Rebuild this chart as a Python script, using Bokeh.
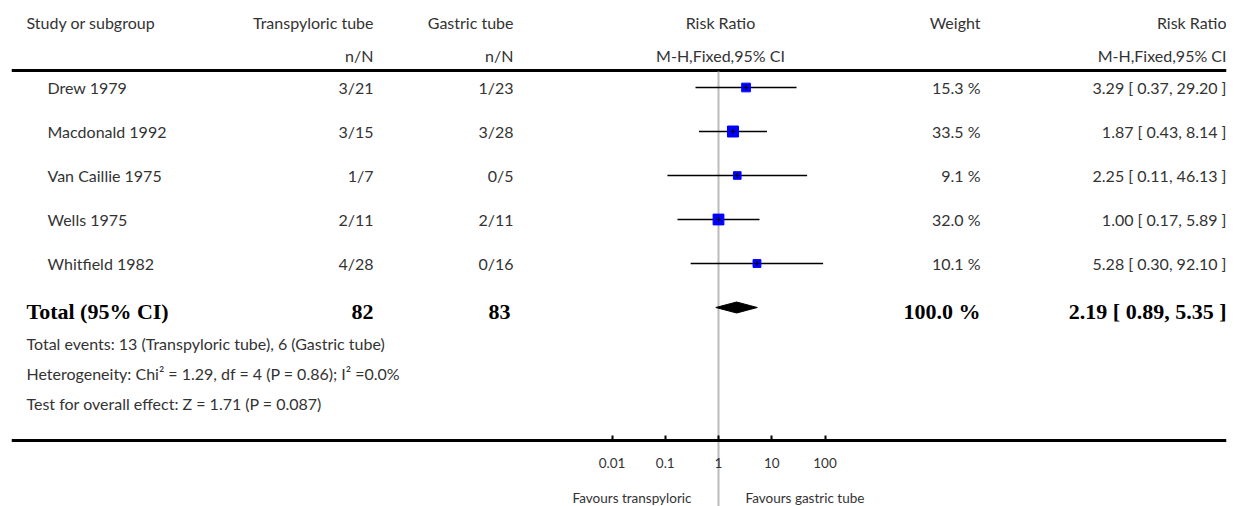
import math
from bokeh.plotting import figure
from bokeh.models import Range1d, LogScale, LogAxis, FixedTicker, ColumnDataSource
from bokeh.core.properties import value
from bokeh.embed import file_html
from bokeh.resources import INLINE

# ---------------- data ----------------
studies = ["Drew 1979", "Macdonald 1992", "Van Caillie 1975", "Wells 1975", "Whitfield 1982"]
trans_events = [3, 3, 1, 2, 4]
trans_total = [21, 15, 7, 11, 28]
gastric_events = [1, 3, 0, 2, 0]
gastric_total = [23, 28, 5, 11, 16]
weights = [15.3, 33.5, 9.1, 32.0, 10.1]
rr = [3.29, 1.87, 2.25, 1.00, 5.28]
rr_low = [0.37, 0.43, 0.11, 0.17, 0.30]
rr_high = [29.20, 8.14, 46.13, 5.89, 92.10]

total_label = "Total (95% CI)"
total_trans_N = 82
total_gastric_N = 83
total_weight = 100.0
total_rr = 2.19
total_low = 0.89
total_high = 5.35

footer_lines = [
    "Total events: 13 (Transpyloric tube), 6 (Gastric tube)",
    "Heterogeneity: Chi\u00b2 = 1.29, df = 4 (P = 0.86); I\u00b2 =0.0%",
    "Test for overall effect: Z = 1.71 (P = 0.087)",
]
tick_values = [0.01, 0.1, 1, 10, 100]
tick_labels = ["0.01", "0.1", "1", "10", "100"]
favours_left = "Favours transpyloric"
favours_right = "Favours gastric tube"

# ---------------- layout constants (page pixel coordinates) ----------------
W, H = 1234, 506
X_LEFT, X_RIGHT = 11, 1226
NULL_X = 718          # page x of RR = 1
PX_PER_DECADE = 53.25
HEAD1_Y, HEAD2_Y = 22, 55
RULE_Y = 70
ROW0_Y, ROW_STEP = 87, 44
TOTAL_Y = 311
DIAMOND_Y = 307
FOOT0_Y, FOOT_STEP = 343, 30
AXIS_Y = 440
FAV_Y = 497

COL_STUDY_HEAD = 26
COL_STUDY = 47
COL_TRANS = 373
COL_GASTRIC = 513
COL_WEIGHT = 980
COL_RR = 1226

FONT = value("Lato")
SERIF = value("Liberation Serif")
TXT = "#333333"
FS = "16px"
SMALL = "13.5px"
BS = "22px"

p = figure(width=W, height=H, output_backend="svg", toolbar_location=None,
           x_axis_type=None, y_axis_type=None,
           x_range=Range1d(X_LEFT, X_RIGHT), y_range=Range1d(H, 0),
           min_border_left=X_LEFT, min_border_right=W - X_RIGHT,
           min_border_top=0, min_border_bottom=0,
           outline_line_color=None)
p.background_fill_color = "white"
p.border_fill_color = "white"

lo_dec = (X_LEFT - NULL_X) / PX_PER_DECADE
hi_dec = (X_RIGHT - NULL_X) / PX_PER_DECADE
p.extra_x_ranges = {"rr": Range1d(10 ** lo_dec, 10 ** hi_dec)}
p.extra_x_scales = {"rr": LogScale()}

# ---------------- rules ----------------
p.segment(x0=[X_LEFT], x1=[X_RIGHT], y0=[RULE_Y], y1=[RULE_Y], line_color="black", line_width=3)
p.segment(x0=[1], x1=[1], y0=[RULE_Y + 1], y1=[H], x_range_name="rr",
          line_color="#bbbbbb", line_width=2)

# ---------------- headers ----------------
def txt(x, y, t, align, font=FONT, size=FS, style="normal", color=TXT, **kw):
    p.text(x=[x], y=[y], text=[t], text_align=align, text_baseline="middle",
           text_font=font, text_font_size=size, text_font_style=style,
           text_color=color, **kw)

txt(COL_STUDY_HEAD, HEAD1_Y, "Study or subgroup", "left")
txt(COL_TRANS, HEAD1_Y, "Transpyloric tube", "right")
txt(COL_TRANS, HEAD2_Y, "n/N", "right")
txt(COL_GASTRIC, HEAD1_Y, "Gastric tube", "right")
txt(COL_GASTRIC, HEAD2_Y, "n/N", "right")
txt(1, HEAD1_Y, "Risk Ratio", "center", x_range_name="rr", x_offset=2)
txt(1, HEAD2_Y, "M-H,Fixed,95% CI", "center", x_range_name="rr", x_offset=2)
txt(COL_WEIGHT, HEAD1_Y, "Weight", "right")
txt(COL_RR, HEAD1_Y, "Risk Ratio", "right")
txt(COL_RR, HEAD2_Y, "M-H,Fixed,95% CI", "right")

# ---------------- study rows ----------------
n = len(studies)
ys = [ROW0_Y + ROW_STEP * i for i in range(n)]
src = ColumnDataSource(dict(
    y=ys,
    study=studies,
    trans=[f"{a}/{b}" for a, b in zip(trans_events, trans_total)],
    gastric=[f"{a}/{b}" for a, b in zip(gastric_events, gastric_total)],
    weight=[f"{w:.1f} %" for w in weights],
    rrtxt=[f"{r:.2f} [ {l:.2f}, {h:.2f} ]" for r, l, h in zip(rr, rr_low, rr_high)],
    rr=rr, lo=rr_low, hi=rr_high,
    size=[4 + 1.2 * math.sqrt(w) for w in weights],
    xs=[COL_STUDY] * n, xt=[COL_TRANS] * n, xg=[COL_GASTRIC] * n,
    xw=[COL_WEIGHT] * n, xr=[COL_RR] * n,
))
common = dict(source=src, text_baseline="middle", text_font=FONT, text_font_size=FS, text_color=TXT)
p.text(x="xs", y="y", text="study", text_align="left", **common)
p.text(x="xt", y="y", text="trans", text_align="right", **common)
p.text(x="xg", y="y", text="gastric", text_align="right", **common)
p.text(x="xw", y="y", text="weight", text_align="right", **common)
p.text(x="xr", y="y", text="rrtxt", text_align="right", **common)

p.segment(x0="lo", x1="hi", y0="y", y1="y", source=src, x_range_name="rr",
          line_color="black", line_width=1.5)
p.scatter(x="rr", y="y", size="size", marker="square", source=src, x_range_name="rr",
          fill_color="#0000ff", line_color="#0000ff")
p.scatter(x="rr", y="y", size=5, marker="cross", source=src, x_range_name="rr",
          line_color="black", line_width=1)

# ---------------- total row ----------------
txt(COL_STUDY_HEAD, TOTAL_Y, total_label, "left", font=SERIF, size=BS, style="bold", color="black")
txt(COL_TRANS, TOTAL_Y, str(total_trans_N), "right", font=SERIF, size=BS, style="bold", color="black")
txt(COL_GASTRIC - 3, TOTAL_Y, str(total_gastric_N), "right", font=SERIF, size=BS, style="bold", color="black")
txt(COL_WEIGHT, TOTAL_Y, f"{total_weight:.1f} %", "right", font=SERIF, size=BS, style="bold", color="black")
txt(COL_RR, TOTAL_Y, f"{total_rr:.2f} [ {total_low:.2f}, {total_high:.2f} ]", "right",
    font=SERIF, size=BS, style="bold", color="black")

DH = 5.5
p.patch(x=[total_low, total_rr, total_high, total_rr],
        y=[DIAMOND_Y, DIAMOND_Y - DH, DIAMOND_Y, DIAMOND_Y + DH],
        x_range_name="rr", fill_color="black", line_color="black", line_width=1)

# ---------------- footer ----------------
for i, line in enumerate(footer_lines):
    txt(COL_STUDY_HEAD, FOOT0_Y + FOOT_STEP * i, line, "left")

# ---------------- axis ----------------
ax = LogAxis(x_range_name="rr", ticker=FixedTicker(ticks=tick_values), fixed_location=AXIS_Y)
ax.major_label_overrides = dict(zip(tick_values, tick_labels))
ax.axis_line_width = 3
ax.axis_line_color = "black"
ax.major_tick_in = 5
ax.major_tick_out = 0
ax.major_tick_line_width = 2
ax.minor_tick_in = 0
ax.minor_tick_out = 0
ax.major_label_standoff = 17
ax.major_label_text_font = "Lato"
ax.major_label_text_font_size = SMALL
ax.major_label_text_color = TXT
p.add_layout(ax, "below")

txt(1, FAV_Y, favours_left, "right", size=SMALL, x_range_name="rr", x_offset=-27)
txt(1, FAV_Y, favours_right, "left", size=SMALL, x_range_name="rr", x_offset=27)

open("out.html", "w").write(file_html(p, INLINE))
